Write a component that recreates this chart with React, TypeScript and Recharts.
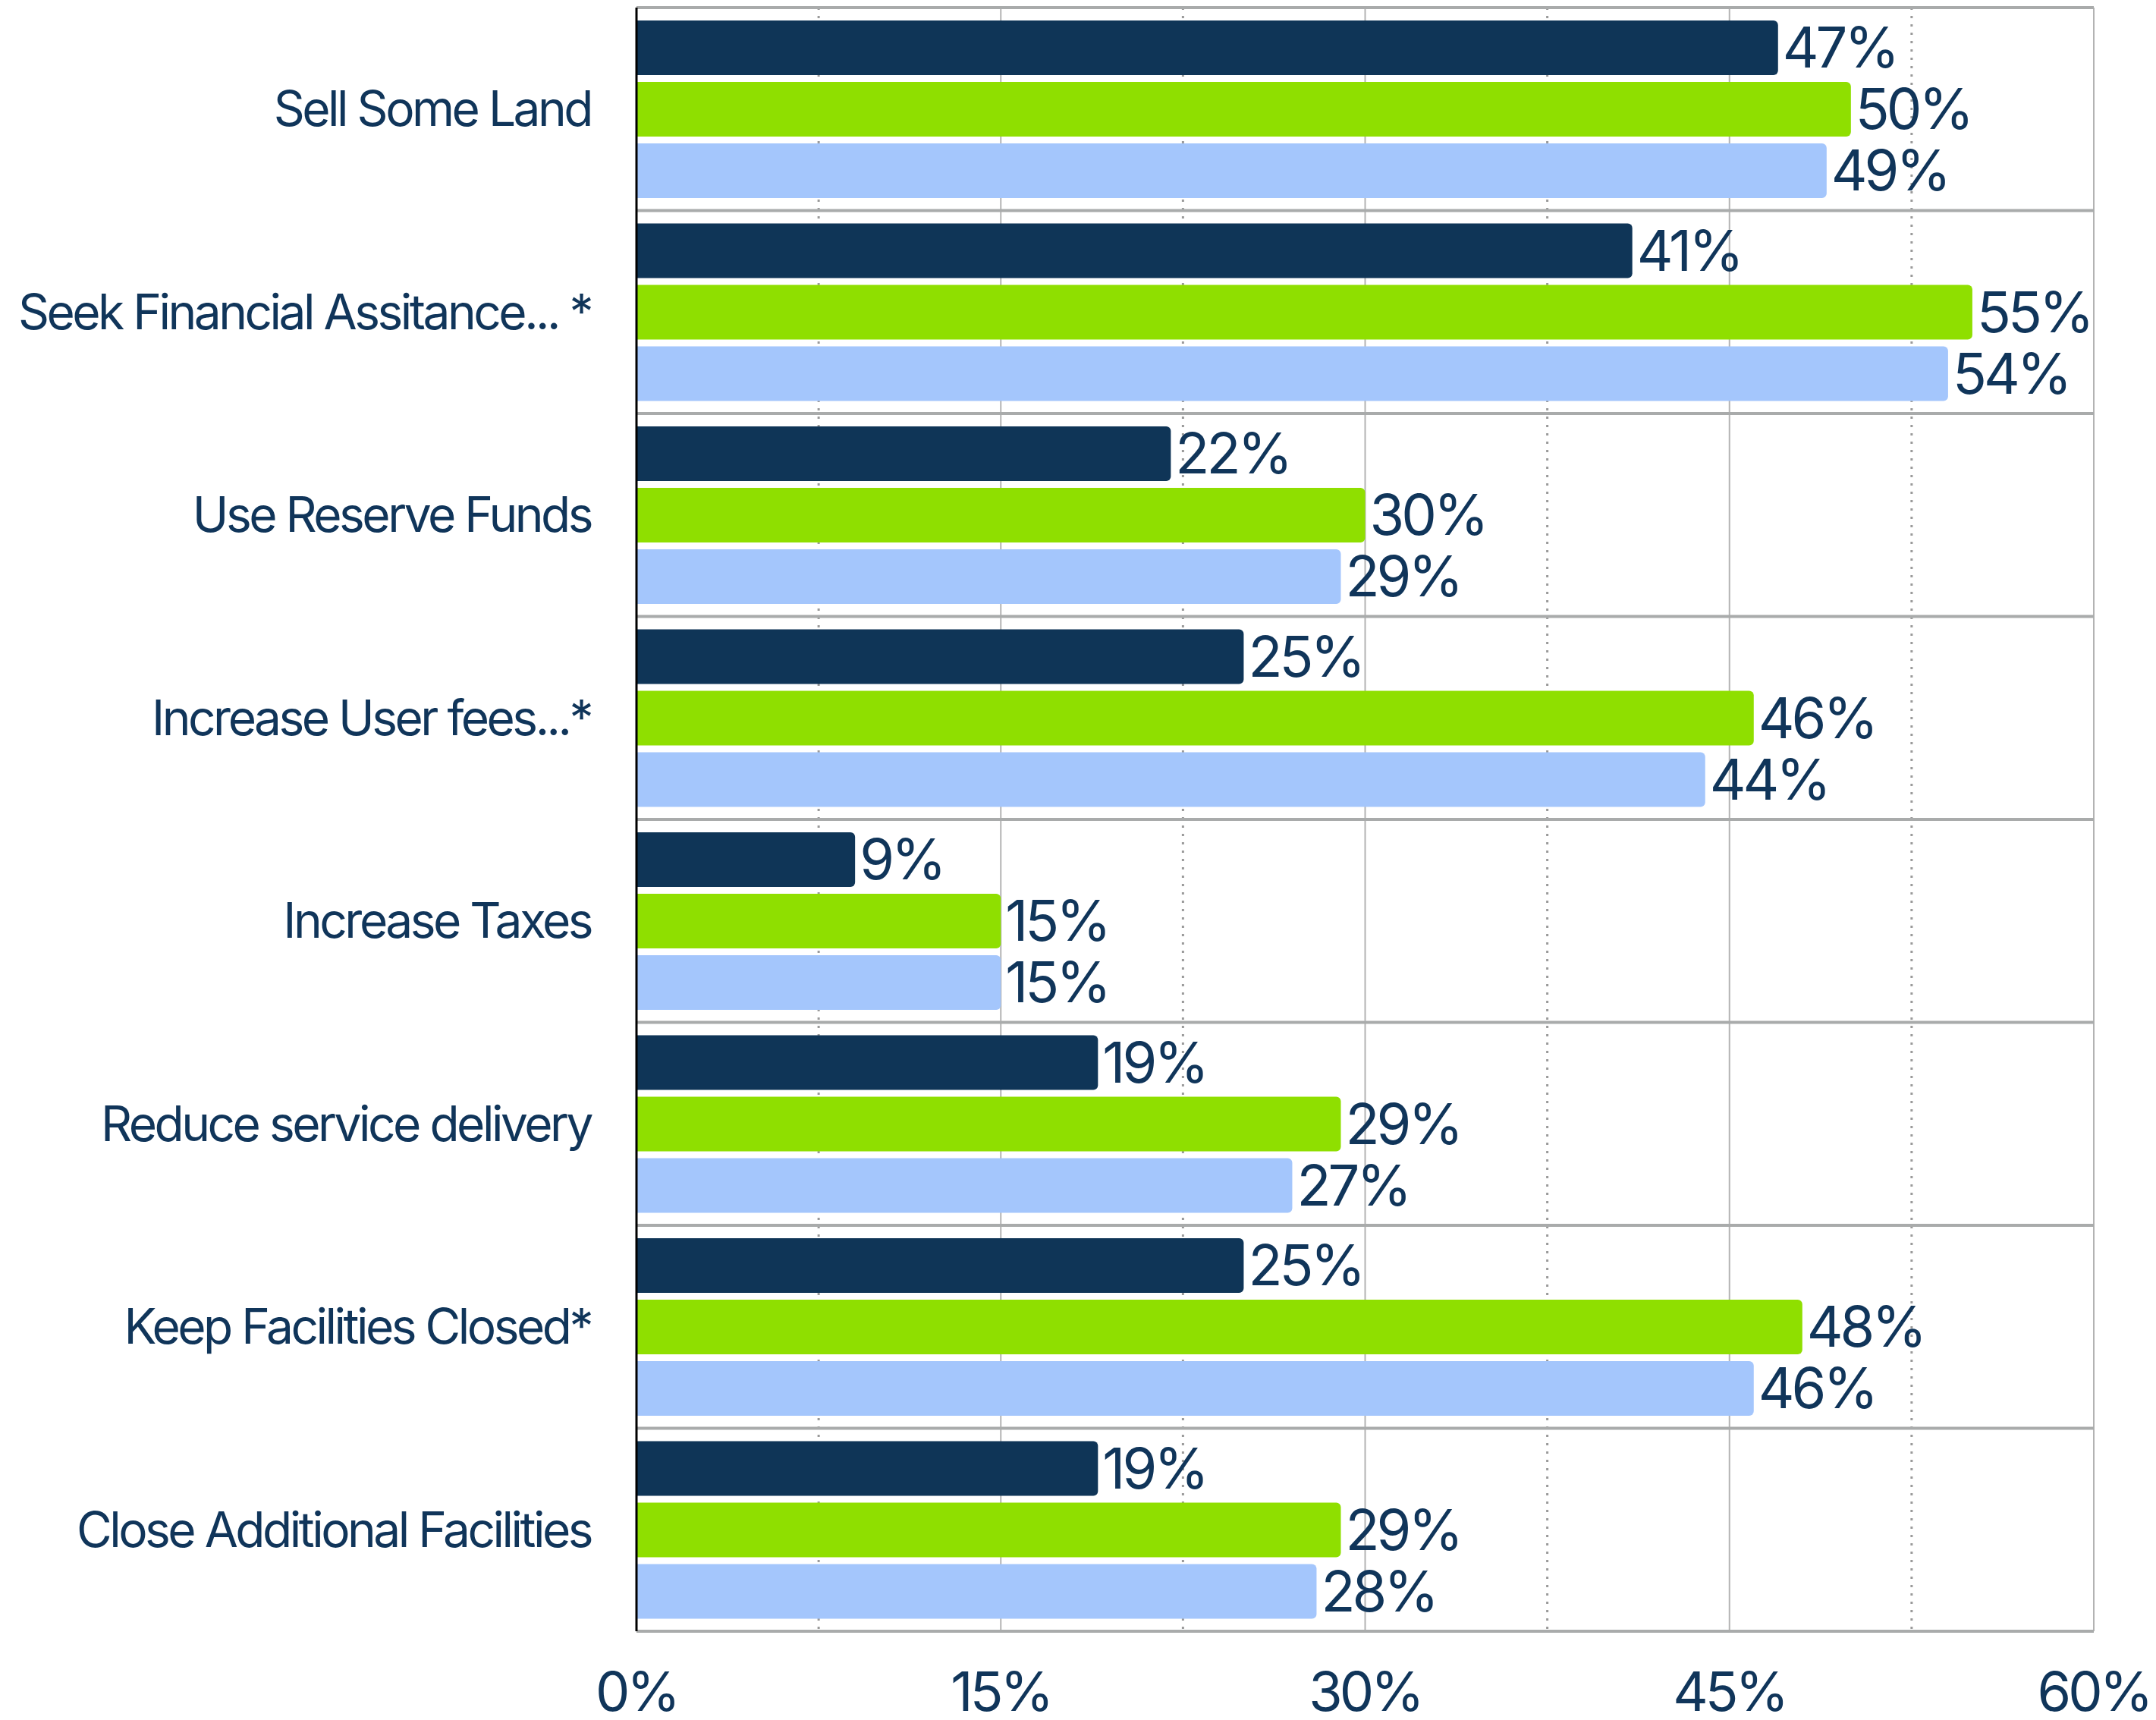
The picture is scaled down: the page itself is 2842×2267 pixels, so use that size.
import { BarChart, Bar, XAxis, YAxis, CartesianGrid, LabelList } from "recharts";

const categories = [
  "Sell Some Land ",
  "Seek Financial Assitance... *",
  "Use Reserve Funds",
  "Increase User fees...*",
  "Increase Taxes",
  "Reduce service delivery",
  "Keep Facilities Closed*",
  "Close Additional Facilities",
];

const darkSeries = [47, 41, 22, 25, 9, 19, 25, 19];
const greenSeries = [50, 55, 30, 46, 15, 29, 48, 29];
const lightSeries = [49, 54, 29, 44, 15, 27, 46, 28];

const xDomain = [0, 60];
const majorTicks = [0, 15, 30, 45, 60];
const minorTicks = [7.5, 22.5, 37.5, 52.5];

const TEXT = "#10355a";
const FONT = "Inter, sans-serif";

const data = categories.map((category, i) => ({
  category,
  dark: darkSeries[i],
  green: greenSeries[i],
  light: lightSeries[i],
}));

const pct = (v: unknown) => `${v}%`;

export default function App() {
  const labelStyle = { fill: TEXT, fontSize: 74, fontFamily: FONT, letterSpacing: -4 };

  return (
    <div style={{ position: "absolute", left: 0, top: 0, width: 2842, height: 2267, background: "#fff" }}>
      <BarChart
        width={2842}
        height={2267}
        layout="vertical"
        data={data}
        margin={{ top: 10, right: 82, bottom: 0, left: 0 }}
        barCategoryGap={17}
        barGap={9}
      >
        {/* dotted half-step lines */}
        <CartesianGrid
          horizontal={false}
          stroke="#9a9a9a"
          strokeWidth={3}
          strokeDasharray="3 8"
          verticalCoordinatesGenerator={({ xAxis, offset }: any) =>
            minorTicks.map((v) =>
              typeof xAxis?.scale === "function"
                ? xAxis.scale(v)
                : offset.left + ((v - xDomain[0]) / (xDomain[1] - xDomain[0])) * offset.width
            )
          }
        />
        <CartesianGrid horizontal={false} stroke="#b3b3b3" strokeWidth={2} />
        {/* lines between category groups */}
        <CartesianGrid
          vertical={false}
          stroke="#a9abab"
          strokeWidth={4}
          horizontalCoordinatesGenerator={({ offset }: any) =>
            Array.from({ length: categories.length + 1 }, (_, i) => offset.top + (i * offset.height) / categories.length)
          }
        />
        <XAxis
          type="number"
          domain={xDomain}
          ticks={majorTicks}
          tickFormatter={pct}
          axisLine={{ stroke: "#a9abab", strokeWidth: 4 }}
          tickLine={false}
          tickSize={0}
          tickMargin={54}
          height={117}
          tick={{ fill: TEXT, fontSize: 72, fontFamily: FONT, letterSpacing: -4 }}
        />
        <YAxis
          type="category"
          dataKey="category"
          width={839}
          axisLine={{ stroke: "#000", strokeWidth: 3 }}
          tickLine={false}
          tickSize={0}
          tickMargin={60}
          tick={{ fill: TEXT, fontSize: 64, fontFamily: FONT, letterSpacing: -3.5 }}
        />
        <Bar dataKey="dark" fill="#0f3557" radius={[0, 6, 6, 0]} isAnimationActive={false}>
          <LabelList dataKey="dark" position="right" offset={6} formatter={pct} {...labelStyle} />
        </Bar>
        <Bar dataKey="green" fill="#8fdf00" radius={[0, 6, 6, 0]} isAnimationActive={false}>
          <LabelList dataKey="green" position="right" offset={6} formatter={pct} {...labelStyle} />
        </Bar>
        <Bar dataKey="light" fill="#a4c6fc" radius={[0, 6, 6, 0]} isAnimationActive={false}>
          <LabelList dataKey="light" position="right" offset={6} formatter={pct} {...labelStyle} />
        </Bar>
      </BarChart>
    </div>
  );
}
